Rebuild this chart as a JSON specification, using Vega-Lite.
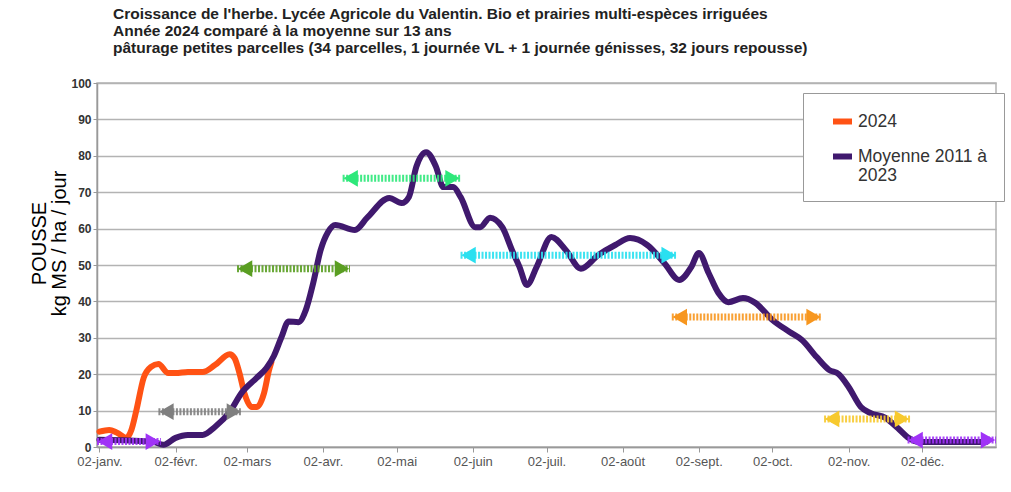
{
  "$schema": "https://vega.github.io/schema/vega-lite/v6.json",
  "width": 899,
  "height": 364,
  "autosize": {"type": "none"},
  "padding": {"left": 97, "top": 83, "right": 15, "bottom": 45},
  "background": "white",
  "title": {
    "text": ["Croissance de l'herbe. Lycée Agricole du Valentin. Bio et prairies multi-espèces irriguées", "Année 2024 comparé à la moyenne sur 13 ans", "pâturage petites parcelles (34 parcelles, 1 journée VL + 1 journée génisses, 32 jours repousse)"],
    "anchor": "start",
    "frame": "group",
    "dx": 16,
    "offset": 21,
    "font": "Liberation Sans",
    "fontSize": 15.5,
    "fontWeight": "bold",
    "color": "#222222",
    "lineHeight": 17
  },
  "datasets": {
    "courbes": [
      {"date": "2024-01-02", "serie": "2024", "pousse": 4.2},
      {"date": "2024-01-06", "serie": "2024", "pousse": 4.7},
      {"date": "2024-01-09", "serie": "2024", "pousse": 4.0},
      {"date": "2024-01-13", "serie": "2024", "pousse": 2.5},
      {"date": "2024-01-15", "serie": "2024", "pousse": 4.7},
      {"date": "2024-01-17", "serie": "2024", "pousse": 10},
      {"date": "2024-01-20", "serie": "2024", "pousse": 19},
      {"date": "2024-01-23", "serie": "2024", "pousse": 22},
      {"date": "2024-01-26", "serie": "2024", "pousse": 22.8},
      {"date": "2024-01-30", "serie": "2024", "pousse": 20.3},
      {"date": "2024-02-02", "serie": "2024", "pousse": 20.3},
      {"date": "2024-02-07", "serie": "2024", "pousse": 20.6},
      {"date": "2024-02-13", "serie": "2024", "pousse": 20.6},
      {"date": "2024-02-18", "serie": "2024", "pousse": 22.5},
      {"date": "2024-02-24", "serie": "2024", "pousse": 25.5},
      {"date": "2024-02-26", "serie": "2024", "pousse": 24.4},
      {"date": "2024-02-28", "serie": "2024", "pousse": 20.3},
      {"date": "2024-03-01", "serie": "2024", "pousse": 14.8},
      {"date": "2024-03-04", "serie": "2024", "pousse": 11},
      {"date": "2024-03-06", "serie": "2024", "pousse": 11},
      {"date": "2024-03-09", "serie": "2024", "pousse": 14.8},
      {"date": "2024-03-11", "serie": "2024", "pousse": 21},
      {"date": "2024-03-12", "serie": "2024", "pousse": 23.3},
      {"date": "2024-01-02", "serie": "Moyenne 2011 à 2023", "pousse": 2.0},
      {"date": "2024-01-14", "serie": "Moyenne 2011 à 2023", "pousse": 1.8},
      {"date": "2024-01-24", "serie": "Moyenne 2011 à 2023", "pousse": 1.4},
      {"date": "2024-01-28", "serie": "Moyenne 2011 à 2023", "pousse": 0.6},
      {"date": "2024-02-02", "serie": "Moyenne 2011 à 2023", "pousse": 2.5},
      {"date": "2024-02-07", "serie": "Moyenne 2011 à 2023", "pousse": 3.3},
      {"date": "2024-02-13", "serie": "Moyenne 2011 à 2023", "pousse": 3.3},
      {"date": "2024-02-18", "serie": "Moyenne 2011 à 2023", "pousse": 5.5},
      {"date": "2024-02-24", "serie": "Moyenne 2011 à 2023", "pousse": 9.6},
      {"date": "2024-02-29", "serie": "Moyenne 2011 à 2023", "pousse": 15},
      {"date": "2024-03-06", "serie": "Moyenne 2011 à 2023", "pousse": 19},
      {"date": "2024-03-10", "serie": "Moyenne 2011 à 2023", "pousse": 21.7},
      {"date": "2024-03-13", "serie": "Moyenne 2011 à 2023", "pousse": 25},
      {"date": "2024-03-16", "serie": "Moyenne 2011 à 2023", "pousse": 30},
      {"date": "2024-03-19", "serie": "Moyenne 2011 à 2023", "pousse": 34.5},
      {"date": "2024-03-23", "serie": "Moyenne 2011 à 2023", "pousse": 34.3},
      {"date": "2024-03-26", "serie": "Moyenne 2011 à 2023", "pousse": 37.6},
      {"date": "2024-03-29", "serie": "Moyenne 2011 à 2023", "pousse": 45},
      {"date": "2024-04-01", "serie": "Moyenne 2011 à 2023", "pousse": 54},
      {"date": "2024-04-04", "serie": "Moyenne 2011 à 2023", "pousse": 59},
      {"date": "2024-04-07", "serie": "Moyenne 2011 à 2023", "pousse": 61},
      {"date": "2024-04-15", "serie": "Moyenne 2011 à 2023", "pousse": 59.6},
      {"date": "2024-04-20", "serie": "Moyenne 2011 à 2023", "pousse": 63},
      {"date": "2024-04-29", "serie": "Moyenne 2011 à 2023", "pousse": 68.4},
      {"date": "2024-05-04", "serie": "Moyenne 2011 à 2023", "pousse": 67},
      {"date": "2024-05-07", "serie": "Moyenne 2011 à 2023", "pousse": 68.7},
      {"date": "2024-05-10", "serie": "Moyenne 2011 à 2023", "pousse": 77},
      {"date": "2024-05-14", "serie": "Moyenne 2011 à 2023", "pousse": 81},
      {"date": "2024-05-18", "serie": "Moyenne 2011 à 2023", "pousse": 77},
      {"date": "2024-05-21", "serie": "Moyenne 2011 à 2023", "pousse": 71.4},
      {"date": "2024-05-25", "serie": "Moyenne 2011 à 2023", "pousse": 71.4},
      {"date": "2024-05-28", "serie": "Moyenne 2011 à 2023", "pousse": 68.7},
      {"date": "2024-06-03", "serie": "Moyenne 2011 à 2023", "pousse": 60.4},
      {"date": "2024-06-05", "serie": "Moyenne 2011 à 2023", "pousse": 60.4},
      {"date": "2024-06-09", "serie": "Moyenne 2011 à 2023", "pousse": 63},
      {"date": "2024-06-14", "serie": "Moyenne 2011 à 2023", "pousse": 60.4},
      {"date": "2024-06-18", "serie": "Moyenne 2011 à 2023", "pousse": 54},
      {"date": "2024-06-21", "serie": "Moyenne 2011 à 2023", "pousse": 49.5},
      {"date": "2024-06-24", "serie": "Moyenne 2011 à 2023", "pousse": 44.5},
      {"date": "2024-06-28", "serie": "Moyenne 2011 à 2023", "pousse": 49.5},
      {"date": "2024-07-04", "serie": "Moyenne 2011 à 2023", "pousse": 57.7},
      {"date": "2024-07-10", "serie": "Moyenne 2011 à 2023", "pousse": 54},
      {"date": "2024-07-16", "serie": "Moyenne 2011 à 2023", "pousse": 49},
      {"date": "2024-07-23", "serie": "Moyenne 2011 à 2023", "pousse": 52.7},
      {"date": "2024-07-30", "serie": "Moyenne 2011 à 2023", "pousse": 55.5},
      {"date": "2024-08-05", "serie": "Moyenne 2011 à 2023", "pousse": 57.4},
      {"date": "2024-08-12", "serie": "Moyenne 2011 à 2023", "pousse": 55.5},
      {"date": "2024-08-19", "serie": "Moyenne 2011 à 2023", "pousse": 50.5},
      {"date": "2024-08-25", "serie": "Moyenne 2011 à 2023", "pousse": 45.9},
      {"date": "2024-08-30", "serie": "Moyenne 2011 à 2023", "pousse": 49.5},
      {"date": "2024-09-02", "serie": "Moyenne 2011 à 2023", "pousse": 53.3},
      {"date": "2024-09-06", "serie": "Moyenne 2011 à 2023", "pousse": 47.8},
      {"date": "2024-09-10", "serie": "Moyenne 2011 à 2023", "pousse": 42.3},
      {"date": "2024-09-14", "serie": "Moyenne 2011 à 2023", "pousse": 39.8},
      {"date": "2024-09-20", "serie": "Moyenne 2011 à 2023", "pousse": 40.9},
      {"date": "2024-09-25", "serie": "Moyenne 2011 à 2023", "pousse": 39.6},
      {"date": "2024-10-02", "serie": "Moyenne 2011 à 2023", "pousse": 34.9},
      {"date": "2024-10-09", "serie": "Moyenne 2011 à 2023", "pousse": 31.6},
      {"date": "2024-10-14", "serie": "Moyenne 2011 à 2023", "pousse": 29.4},
      {"date": "2024-10-20", "serie": "Moyenne 2011 à 2023", "pousse": 24.7},
      {"date": "2024-10-25", "serie": "Moyenne 2011 à 2023", "pousse": 21.2},
      {"date": "2024-10-29", "serie": "Moyenne 2011 à 2023", "pousse": 20},
      {"date": "2024-11-02", "serie": "Moyenne 2011 à 2023", "pousse": 16.5},
      {"date": "2024-11-07", "serie": "Moyenne 2011 à 2023", "pousse": 11},
      {"date": "2024-11-11", "serie": "Moyenne 2011 à 2023", "pousse": 9.3},
      {"date": "2024-11-17", "serie": "Moyenne 2011 à 2023", "pousse": 8},
      {"date": "2024-11-22", "serie": "Moyenne 2011 à 2023", "pousse": 5.2},
      {"date": "2024-11-26", "serie": "Moyenne 2011 à 2023", "pousse": 2.7},
      {"date": "2024-12-01", "serie": "Moyenne 2011 à 2023", "pousse": 1.4},
      {"date": "2024-12-13", "serie": "Moyenne 2011 à 2023", "pousse": 1.4},
      {"date": "2024-12-28", "serie": "Moyenne 2011 à 2023", "pousse": 1.4}
    ],
    "fleches": [
      {"fleche": "violet début", "debut": "2024-01-01", "fin": "2024-01-27", "pousse": 1.5},
      {"fleche": "gris", "debut": "2024-01-26", "fin": "2024-02-29", "pousse": 9.7},
      {"fleche": "vert foncé", "debut": "2024-02-27", "fin": "2024-04-13", "pousse": 49},
      {"fleche": "vert clair", "debut": "2024-04-10", "fin": "2024-05-28", "pousse": 73.8},
      {"fleche": "cyan", "debut": "2024-05-28", "fin": "2024-08-24", "pousse": 52.7},
      {"fleche": "orange", "debut": "2024-08-22", "fin": "2024-10-22", "pousse": 35.7},
      {"fleche": "jaune", "debut": "2024-10-23", "fin": "2024-11-27", "pousse": 7.7},
      {"fleche": "violet fin", "debut": "2024-11-26", "fin": "2025-01-01", "pousse": 1.9}
    ]
  },
  "encoding": {
    "y": {
      "field": "pousse", "type": "quantitative",
      "scale": {"domain": [0, 100], "nice": false, "zero": false},
      "axis": {
        "title": ["POUSSE", "kg MS / ha / jour"],
        "titleFont": "Liberation Sans",
        "titleFontSize": 20,
        "titleFontWeight": "normal",
        "titleColor": "#000000",
        "titleLineHeight": 20,
        "titlePadding": 1,
        "titleY": 160,
        "values": [0, 10, 20, 30, 40, 50, 60, 70, 80, 90, 100],
        "labelOverlap": false,
        "labelFont": "Liberation Sans",
        "labelFontSize": 12,
        "labelFontWeight": "bold",
        "labelColor": "#333333",
        "labelPadding": 2,
        "tickSize": 4,
        "tickColor": "#999999",
        "domainColor": "#999999",
        "domainWidth": 1.5,
        "grid": true,
        "gridColor": "#b3b3b3",
        "gridWidth": 1.5
      }
    }
  },
  "layer": [
    {
      "data": {"name": "courbes"},
      "mark": {"type": "line", "interpolate": "monotone", "strokeWidth": 6, "strokeCap": "round", "strokeJoin": "round"},
      "encoding": {
        "x": {
          "field": "date", "type": "temporal",
          "scale": {"type": "utc", "domain": [{"year": 2024, "month": 1, "date": 1, "utc": true}, {"year": 2025, "month": 1, "date": 1, "utc": true}]},
          "axis": {
            "title": null,
            "grid": false,
            "values": [
              {"year": 2024, "month": 1, "date": 2, "utc": true},
              {"year": 2024, "month": 2, "date": 2, "utc": true},
              {"year": 2024, "month": 3, "date": 2, "utc": true},
              {"year": 2024, "month": 4, "date": 2, "utc": true},
              {"year": 2024, "month": 5, "date": 2, "utc": true},
              {"year": 2024, "month": 6, "date": 2, "utc": true},
              {"year": 2024, "month": 7, "date": 2, "utc": true},
              {"year": 2024, "month": 8, "date": 2, "utc": true},
              {"year": 2024, "month": 9, "date": 2, "utc": true},
              {"year": 2024, "month": 10, "date": 2, "utc": true},
              {"year": 2024, "month": 11, "date": 2, "utc": true},
              {"year": 2024, "month": 12, "date": 2, "utc": true}
            ],
            "labelExpr": "'02-' + ['janv.','févr.','mars','avr.','mai','juin','juil.','août','sept.','oct.','nov.','déc.'][utcmonth(datum.value)]",
            "labelFont": "Liberation Sans",
            "labelFontSize": 13,
            "labelColor": "#555555",
            "labelPadding": 3,
            "tickSize": 5,
            "tickColor": "#999999",
            "domainColor": "#999999",
            "domainWidth": 1.5
          }
        },
        "color": {
          "field": "serie", "type": "nominal",
          "scale": {"domain": ["2024", "Moyenne 2011 à 2023"], "range": ["#ff5214", "#40196e"]},
          "legend": {
            "title": null,
            "orient": "none",
            "legendX": 706,
            "legendY": 10,
            "padding": 16,
            "fillColor": "white",
            "strokeColor": "#999999",
            "symbolType": "stroke",
            "symbolStrokeWidth": 6,
            "symbolSize": 361,
            "symbolOffset": 11,
            "labelFont": "Liberation Sans",
            "labelFontSize": 17.5,
            "labelColor": "#333333",
            "labelOffset": 3,
            "labelLimit": 250,
            "rowPadding": 10,
            "labelExpr": "datum.label === 'Moyenne 2011 à 2023' ? ['Moyenne 2011 à', '2023'] : datum.label"
          }
        }
      }
    },
    {
      "data": {"name": "fleches"},
      "encoding": {
        "color": {
          "field": "fleche", "type": "nominal", "legend": null,
          "scale": {
            "domain": ["violet début", "gris", "vert foncé", "vert clair", "cyan", "orange", "jaune", "violet fin"],
            "range": ["#a033f7", "#7f7f7f", "#5a9e22", "#2ee87a", "#2ae0f0", "#f7961e", "#f7c92e", "#a033f7"]
          }
        }
      },
      "layer": [
        {
          "mark": {"type": "rule", "strokeWidth": 7, "strokeDash": [2, 1.5], "opacity": 0.9},
          "encoding": {
            "x": {"field": "debut", "type": "temporal"},
            "x2": {"field": "fin"}
          }
        },
        {
          "mark": {"type": "point", "shape": "triangle-left", "filled": true, "opacity": 1, "size": 280, "xOffset": 8},
          "encoding": {"x": {"field": "debut", "type": "temporal"}}
        },
        {
          "mark": {"type": "point", "shape": "triangle-right", "filled": true, "opacity": 1, "size": 280, "xOffset": -8},
          "encoding": {"x": {"field": "fin", "type": "temporal"}}
        }
      ]
    }
  ],
  "resolve": {"scale": {"color": "independent"}},
  "config": {
    "font": "Liberation Sans",
    "view": {"stroke": "#b3b3b3", "strokeWidth": 1.5}
  }
}
